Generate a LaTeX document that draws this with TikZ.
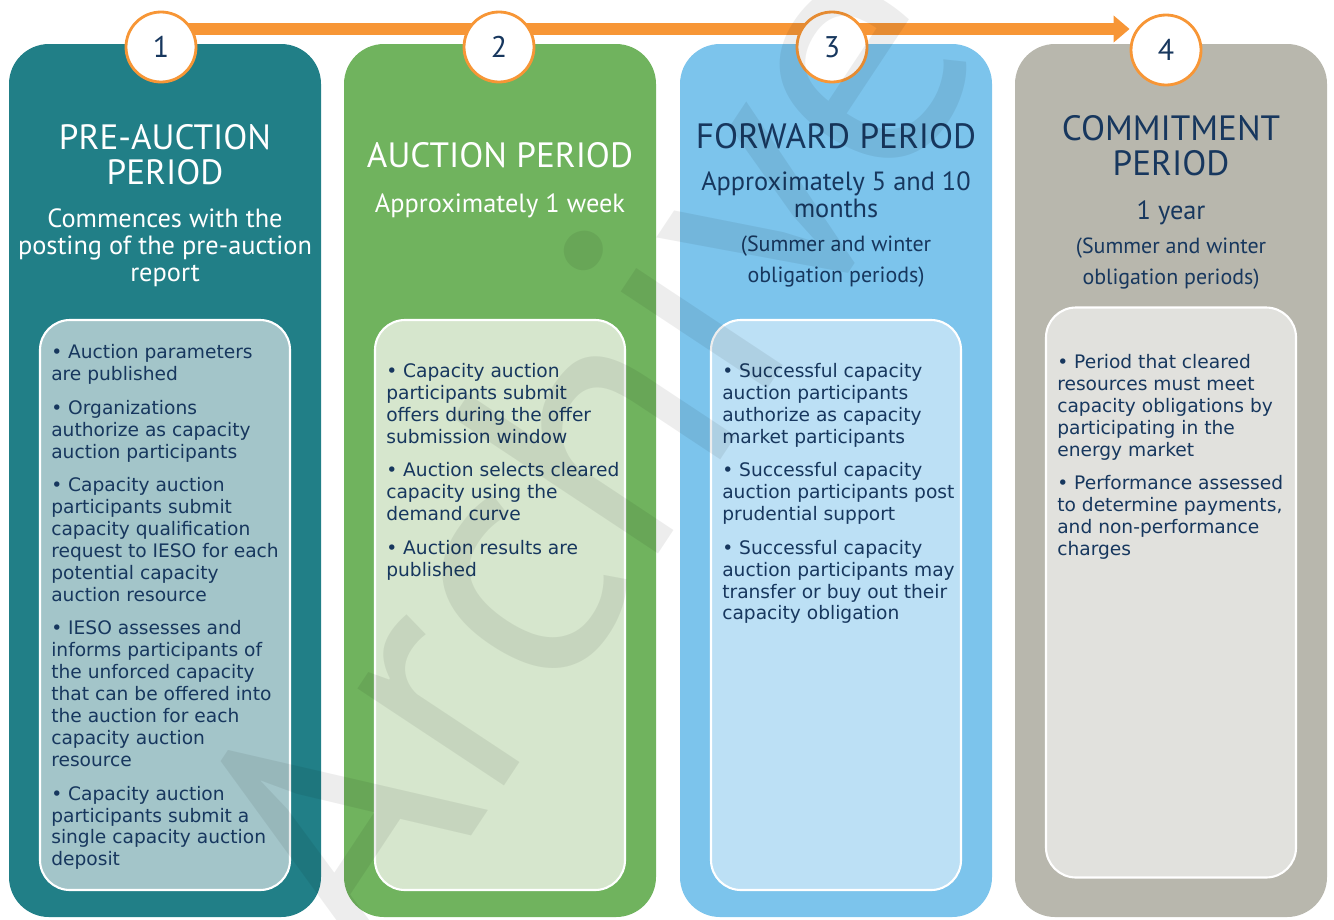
\documentclass[tikz,border=0pt]{standalone}
\usepackage{fontspec}
\setmainfont{DejaVu Sans}
\newfontfamily\headfont{PT Sans}
\usepackage{tikz}
\usetikzlibrary{arrows.meta, positioning, calc, backgrounds}
\definecolor{iesoteal}{RGB}{33, 127, 135}
\definecolor{iesogreen}{RGB}{112, 179, 94}
\definecolor{iesosky}{RGB}{124, 196, 236}
\definecolor{iesostone}{RGB}{184, 183, 173}
\definecolor{tealpale}{RGB}{163, 197, 201}
\definecolor{greenpale}{RGB}{214, 230, 205}
\definecolor{skypale}{RGB}{188, 224, 245}
\definecolor{stonepale}{RGB}{225, 225, 221}
\definecolor{iesoorange}{RGB}{247, 150, 54}
\definecolor{ink}{RGB}{23, 55, 94}

\begin{document}
\begin{tikzpicture}[
    phase/.style={rectangle, rounded corners=0.8cm, minimum width=6.24cm,
                  minimum height=17.46cm, inner sep=0pt},
    panel/.style={rectangle, rounded corners=0.6cm, draw=white, line width=1.2pt,
                  minimum width=5cm, minimum height=11.4cm, inner sep=0pt},
    stepnum/.style={circle, draw=iesoorange, line width=1.6pt, fill=white,
                    minimum size=1.4cm, inner sep=0pt, text=ink,
                    font=\headfont\fontsize{17}{17}\selectfont},
    heading/.style={font=\headfont\fontsize{20}{20}\selectfont, align=center, inner sep=0pt},
    subhead/.style={font=\headfont\fontsize{15}{15.3}\selectfont, align=center, inner sep=0pt},
    note/.style={font=\headfont\fontsize{12.5}{17.6}\selectfont, align=center, inner sep=0pt},
    bullets/.style={font=\fontsize{10.6}{12.5}\selectfont, align=left, text=ink,
                    inner sep=0pt, anchor=north west},
    arr/.style={-{Triangle[length=0.32cm, width=0.52cm]}, line width=0.24cm, iesoorange}
]
\useasboundingbox (0,0) rectangle (26.68,-18.38);

% Phase columns
\node[phase, fill=iesoteal]  (col1) at (3.30,-9.61)  {};
\node[phase, fill=iesogreen] (col2) at (10.00,-9.61) {};
\node[phase, fill=iesosky]   (col3) at (16.72,-9.61) {};
\node[phase, fill=iesostone] (col4) at (23.42,-9.61) {};

% Inner panels
\node[panel, fill=tealpale]  (in1) at (3.30,-12.10)  {};
\node[panel, fill=greenpale] (in2) at (10.00,-12.10) {};
\node[panel, fill=skypale]   (in3) at (16.72,-12.10) {};
\node[panel, fill=stonepale] (in4) at (23.42,-11.85) {};

% Timeline
\node[stepnum] (c1) at (3.22,-0.94)  {1};
\node[stepnum] (c2) at (9.98,-0.94)  {2};
\node[stepnum] (c3) at (16.64,-0.94) {3};
\node[stepnum] (c4) at (23.32,-1.00) {4};
\coordinate (tail) at ([yshift=0.36cm]c1.center);
\begin{scope}[on background layer]
\draw[arr] (tail) -- (tail -| c4.west);
\end{scope}

% Headings
\node[heading, text=white] (h1) at (3.30,-3.09) {PRE-AUCTION\\PERIOD};
\node[subhead, text=white, below=0.47cm of h1] (s1) {Commences with the\\posting of the pre-auction\\report};

\node[heading, text=white] (h2) at (10.00,-3.10) {AUCTION PERIOD};
\node[subhead, text=white, below=0.5cm of h2] (s2) {Approximately 1 week};

\node[heading, text=ink] (h3) at (16.72,-2.72) {FORWARD PERIOD};
\node[subhead, text=ink, below=0.45cm of h3] (s3) {Approximately 5 and 10\\months};
\node[note, text=ink, below=0.35cm of s3] (n3) {(Summer and winter\\obligation periods)};

\node[heading, text=ink] (h4) at (23.42,-2.91) {COMMITMENT\\PERIOD};
\node[subhead, text=ink, below=0.49cm of h4] (s4) {1 year};
\node[note, text=ink, below=0.24cm of s4] (n4) {(Summer and winter\\obligation periods)};

% Bullet lists
\node[bullets] (b1) at ([xshift=0.24cm, yshift=-0.51cm]in1.north west) {%
\textbullet\ Auction parameters\\
are published\\[6.5pt]
\textbullet\ Organizations\\
authorize as capacity\\
auction participants\\[6.5pt]
\textbullet\ Capacity auction\\
participants submit\\
capacity qualification\\
request to IESO for each\\
potential capacity\\
auction resource\\[6.5pt]
\textbullet\ IESO assesses and\\
informs participants of\\
the unforced capacity\\
that can be offered into\\
the auction for each\\
capacity auction\\
resource\\[6.5pt]
\textbullet\ Capacity auction\\
participants submit a\\
single capacity auction\\
deposit};

\node[bullets] (b2) at ([xshift=0.24cm, yshift=-0.88cm]in2.north west) {%
\textbullet\ Capacity auction\\
participants submit\\
offers during the offer\\
submission window\\[6.5pt]
\textbullet\ Auction selects cleared\\
capacity using the\\
demand curve\\[6.5pt]
\textbullet\ Auction results are\\
published};

\node[bullets] (b3) at ([xshift=0.24cm, yshift=-0.88cm]in3.north west) {%
\textbullet\ Successful capacity\\
auction participants\\
authorize as capacity\\
market participants\\[6.5pt]
\textbullet\ Successful capacity\\
auction participants post\\
prudential support\\[6.5pt]
\textbullet\ Successful capacity\\
auction participants may\\
transfer or buy out their\\
capacity obligation};

\node[bullets] (b4) at ([xshift=0.24cm, yshift=-0.95cm]in4.north west) {%
\textbullet\ Period that cleared\\
resources must meet\\
capacity obligations by\\
participating in the\\
energy market\\[6.5pt]
\textbullet\ Performance assessed\\
to determine payments,\\
and non-performance\\
charges};

% Watermark
\node[rotate=56.5, anchor=base west, text=black, text opacity=0.07, inner sep=0pt,
      font=\headfont\fontsize{200}{200}\selectfont] (mark) at (7.52,-19.6) {Archive};

\end{tikzpicture}
\end{document}
